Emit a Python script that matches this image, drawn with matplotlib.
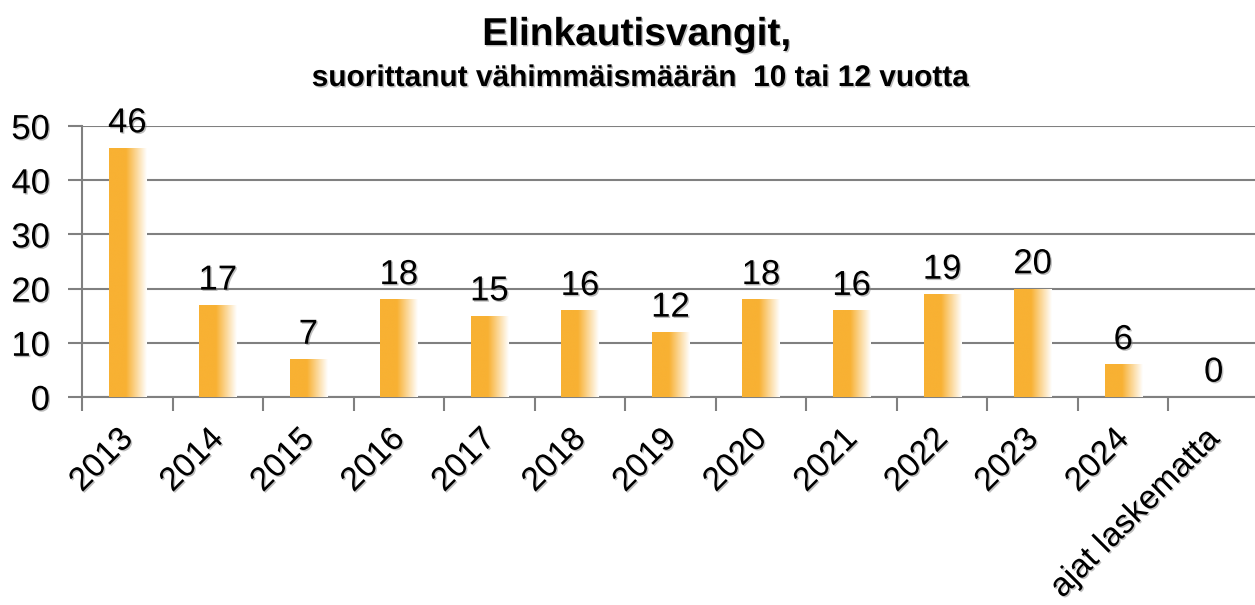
import numpy as np
import matplotlib
matplotlib.use("Agg")
import matplotlib.pyplot as plt
import matplotlib.patheffects as pe
from matplotlib.colors import LinearSegmentedColormap
from matplotlib.transforms import ScaledTranslation

categories = ["2013", "2014", "2015", "2016", "2017", "2018", "2019", "2020",
              "2021", "2022", "2023", "2024", "ajat laskematta"]
values = [46, 17, 7, 18, 15, 16, 12, 18, 16, 19, 20, 6, 0]
yticks = [0, 10, 20, 30, 40, 50]

plt.rcParams['font.family'] = ['Liberation Sans', 'DejaVu Sans']
shadow = [pe.withSimplePatchShadow(offset=(1, -1), shadow_rgbFace='#808080', alpha=0.5)]

fig = plt.figure(figsize=(12.55, 6.05), dpi=100)
ax = fig.add_axes([82/1255, 1 - 397/605, (1259-82)/1255, (397-126)/605])

x = np.arange(len(categories))
bw = 0.41
bars = ax.bar(x, values, width=bw, color='none', edgecolor='none', zorder=3)

cmap = LinearSegmentedColormap.from_list('g', [(0, '#F8B133'), (0.45, '#F8B133'), (1.0, '#FFFFFF')])
grad = np.linspace(0, 1, 256).reshape(1, -1)
for b in bars:
    if b.get_height() <= 0:
        continue
    x0 = b.get_x(); w = b.get_width(); h = b.get_height()
    im = ax.imshow(grad, cmap=cmap, aspect='auto', extent=[x0, x0 + w, 0, h],
                   zorder=3, interpolation='bilinear')
    im.set_clip_path(b)

for xi, v in zip(x, values):
    ax.annotate(str(v), (xi, v), xytext=(0, 6), textcoords='offset points',
                ha='center', va='bottom', fontsize=25, zorder=4, path_effects=shadow)

ax.set_xlim(-0.5, len(categories) - 0.5)
ax.set_ylim(0, 50)
ax.set_yticks(yticks)
ax.set_yticklabels([str(t) for t in yticks], fontsize=25)
ax.set_xticks(x)
ax.set_xticklabels(categories, rotation=45, ha='right', rotation_mode='anchor', fontsize=24)
ax.set_xticks(np.arange(len(categories) + 1) - 0.5, minor=True)
ax.tick_params(axis='x', which='major', length=0, pad=19)
ax.tick_params(axis='x', which='minor', length=10, width=1.5, color='#808080')
ax.tick_params(axis='y', length=10, width=1.5, color='#808080', pad=13)
off = ScaledTranslation(-10/100, 0, fig.dpi_scale_trans)
for lab in ax.get_xticklabels():
    lab.set_transform(lab.get_transform() + off)
    lab.set_path_effects(shadow)
for lab in ax.get_yticklabels():
    lab.set_path_effects(shadow)
ax.grid(axis='y', color='#808080', linewidth=1.5, zorder=0)
ax.set_axisbelow(True)
for s in ['top', 'right']:
    ax.spines[s].set_visible(False)
for s in ['left', 'bottom']:
    ax.spines[s].set_color('#808080')
    ax.spines[s].set_linewidth(1.5)
ax.set_facecolor('none')

fig.text(637/1255, 1 - 35/605, "Elinkautisvangit,", ha='center', va='center',
         fontsize=28, fontweight='bold', path_effects=shadow)
fig.text(641/1255, 1 - 78/605, "suorittanut vähimmäismäärän  10 tai 12 vuotta",
         ha='center', va='center', fontsize=21.5, fontweight='bold', path_effects=shadow)

fig.savefig("out.png", dpi=100)
